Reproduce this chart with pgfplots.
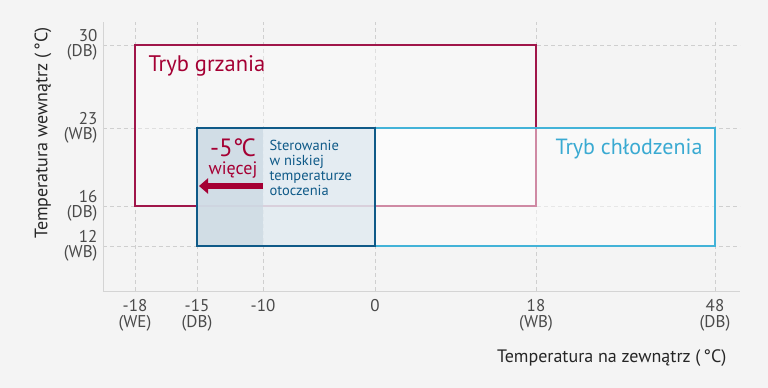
\documentclass[border=0pt]{standalone}
\usepackage{pgfplots}
\pgfplotsset{compat=1.18}
\usepackage{fontspec}
\setmainfont{PT Sans}
\usetikzlibrary{backgrounds,arrows.meta}
\definecolor{bg}{HTML}{F4F4F4}
\definecolor{heat}{HTML}{A0164A}
\definecolor{heattext}{HTML}{A50034}
\definecolor{cool}{HTML}{43B3D8}
\definecolor{cooltext}{HTML}{3AAAD2}
\definecolor{ctrl}{HTML}{0F5A88}
\definecolor{ctrllight}{HTML}{DDE8EF}
\definecolor{ctrldark}{HTML}{CBD8E2}
\definecolor{gridc}{HTML}{CFCFCF}
\definecolor{axc}{HTML}{D4D4D4}
\definecolor{tickc}{HTML}{4A4A4A}
\begin{document}
\begin{tikzpicture}
\begin{axis}[
  x=1pt, y=1pt,
  xmin=103, xmax=740, ymin=-291, ymax=-22,
  axis x line=bottom, axis y line=left,
  axis line style={draw=axc, line width=0.8pt, -},
  xtick={135,197,263,375,536,715},
  xticklabels={{-18\\(WE)},{-15\\(DB)},{-10},{0},{18\\(WB)},{48\\(DB)}},
  ytick={-246,-206,-128,-45},
  yticklabels={{12\\(WB)},{16\\(DB)},{23\\(WB)},{30\\(DB)}},
  major tick length=0pt,
  grid=major,
  major grid style={draw=gridc, dash pattern=on 4pt off 3pt, line width=0.6pt},
  tick label style={font=\fontsize{17}{15.5}\selectfont, text=tickc},
  xticklabel style={align=center, anchor=north, yshift=-5pt},
  yticklabel style={align=right, anchor=east, xshift=-2pt},
  clip=false,
]
\coordinate (tl) at (axis cs:0,0);
\coordinate (br) at (axis cs:768,-388);
% heating
\addplot[draw=heat, line width=2pt, line join=miter, fill=white, fill opacity=0.35]
  coordinates {(135,-45)(536,-45)(536,-206)(135,-206)} -- cycle;
% cooling
\addplot[draw=cool, line width=2pt, line join=miter, fill=white, fill opacity=0.5]
  coordinates {(197,-128)(715,-128)(715,-246)(197,-246)} -- cycle;
% low temp control
\addplot[draw=none, fill=ctrllight, fill opacity=0.75]
  coordinates {(197,-128)(375,-128)(375,-246)(197,-246)} -- cycle;
\addplot[draw=none, fill=ctrldark, fill opacity=0.75]
  coordinates {(197,-128)(263,-128)(263,-246)(197,-246)} -- cycle;
\addplot[draw=ctrl, line width=2pt, line join=miter]
  coordinates {(197,-128)(375,-128)(375,-246)(197,-246)} -- cycle;
% arrow
\addplot[heattext, line width=5pt, -{Triangle[length=9pt,width=15pt]}]
  coordinates {(263,-186)(199,-186)};
% texts
\node[anchor=west, text=heattext, font=\fontsize{22.5}{24}\selectfont] at (axis cs:145,-66) {Tryb grzania};
\node[anchor=east, text=cooltext, font=\fontsize{22}{24}\selectfont] at (axis cs:706,-149) {Tryb chłodzenia};
\node[inner sep=0pt, text=heattext, font=\fontsize{25}{26}\selectfont] at (axis cs:233,-148) {-5°\kern-2pt C};
\node[inner sep=0pt, text=heattext, font=\fontsize{18}{19}\selectfont] at (axis cs:233,-170.5) {więcej};
\node[anchor=west, align=left, text=ctrl, font=\fontsize{14.5}{15}\selectfont] at (axis cs:266,-168) {Sterowanie\\w niskiej\\temperaturze\\otoczenia};
\node[anchor=east, text=black!85, font=\fontsize{18}{19}\selectfont] at (axis cs:730,-358) {Temperatura na zewnątrz (\,°C)};
\node[rotate=90, text=black!85, font=\fontsize{18}{19}\selectfont] at (axis cs:43,-133) {Temperatura wewnątrz (\,°C)};
\end{axis}
\pgfresetboundingbox
\path (tl) rectangle (br);
\begin{scope}[on background layer]
\fill[bg] (tl) rectangle (br);
\end{scope}
\end{tikzpicture}
\end{document}
